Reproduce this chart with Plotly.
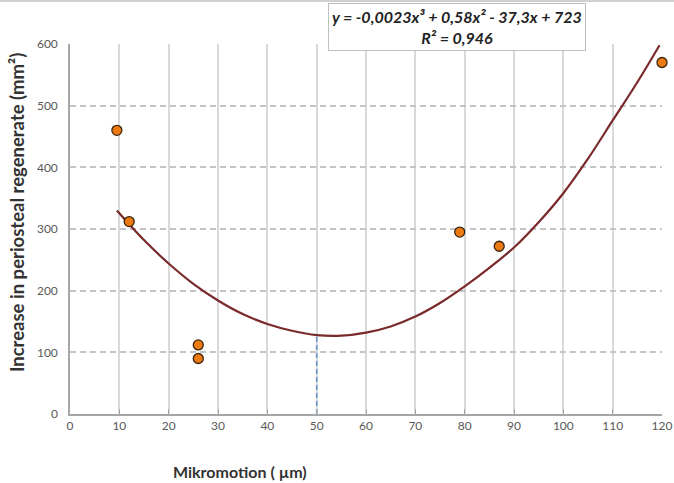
import plotly.graph_objects as go

# Measured data points
micromotion = [9.5, 12, 26, 26, 79, 87, 120]
increase = [460, 312, 112, 90, 295, 272, 570]

# Trend line samples
trend_x = [9.5, 15, 20, 25, 30, 35, 40, 45, 50, 55, 60, 65, 70, 75, 80, 85, 90, 95, 100, 105, 110, 115, 119.5]
trend_y = [330, 282, 244, 211, 184, 162, 146, 135, 128, 127, 132, 142, 158, 180, 207, 237, 270, 311, 358, 414, 476, 538, 598]

# Vertical marker at optimum
opt_x = [50, 50]
opt_y = [0, 128]

x_ticks = list(range(0, 121, 10))
y_ticks = list(range(0, 601, 100))

equation = "y = -0,0023x³ + 0,58x² - 37,3x + 723"
r2 = "R² = 0,946"

FONT = "Lato"

fig = go.Figure()

fig.add_trace(go.Scatter(
    x=opt_x, y=opt_y, mode="lines",
    line=dict(color="#6f9bd1", width=1.6, dash="5px,3px"),
    hoverinfo="skip", showlegend=False))

fig.add_trace(go.Scatter(
    x=trend_x, y=trend_y, mode="lines", line_shape="spline",
    line=dict(color="#7a2a2a", width=2.2), showlegend=False))

fig.add_trace(go.Scatter(
    x=micromotion, y=increase, mode="markers",
    marker=dict(size=10, color="#ec7a10", line=dict(color="#3a2410", width=1.3)),
    showlegend=False, cliponaxis=False))

fig.update_layout(
    width=674, height=483,
    margin=dict(l=70, r=12, t=44, b=69),
    paper_bgcolor="white", plot_bgcolor="white",
    font=dict(family=FONT, size=12, color="#595959"),
    xaxis=dict(range=[0, 120], tickvals=x_ticks, showgrid=True, gridcolor="#d9d9d9",
               gridwidth=1.5, zeroline=False, showline=True, linecolor="#a6a6a6", linewidth=1.5,
               ticks="inside", ticklen=5, tickcolor="#a6a6a6", automargin=False,
               tickfont=dict(size=12, color="#595959")),
    yaxis=dict(range=[0, 600], tickvals=y_ticks, showgrid=True, gridcolor="#c4c4c4",
               griddash="6px,4px", gridwidth=1.5, zeroline=False, showline=True,
               linecolor="#a6a6a6", linewidth=1.5, ticks="", ticklabelstandoff=8,
               automargin=False, tickfont=dict(size=12, color="#595959")),
    shapes=[dict(type="line", xref="paper", yref="paper",
                 x0=-70 / 592, x1=604 / 592, y0=1 + 43 / 370, y1=1 + 43 / 370,
                 line=dict(color="#d0d0d0", width=2))],
    annotations=[
        dict(text="<b>Increase in periosteal regenerate (mm²)</b>", xref="paper", yref="paper",
             x=-0.0895, y=0.543, xanchor="center", yanchor="middle", textangle=-90,
             showarrow=False, font=dict(size=18.5, color="#333333", family=FONT)),
        dict(text="<b>Mikromotion ( µm)</b>", xref="paper", yref="paper",
             x=0.287, y=-0.155, xanchor="center", yanchor="middle",
             showarrow=False, font=dict(size=16, color="#333333", family=FONT)),
        dict(text="<b><i>" + equation + "</i></b><br><b><i>" + r2 + "</i></b>",
             xref="paper", yref="paper", x=0.654, y=1 + 41 / 370, xanchor="center", yanchor="top",
             showarrow=False, align="center", bgcolor="white", bordercolor="#bfbfbf",
             borderwidth=1, borderpad=3,
             font=dict(size=16, color="#222222", family=FONT)),
    ],
)

fig.write_html("out.html")
